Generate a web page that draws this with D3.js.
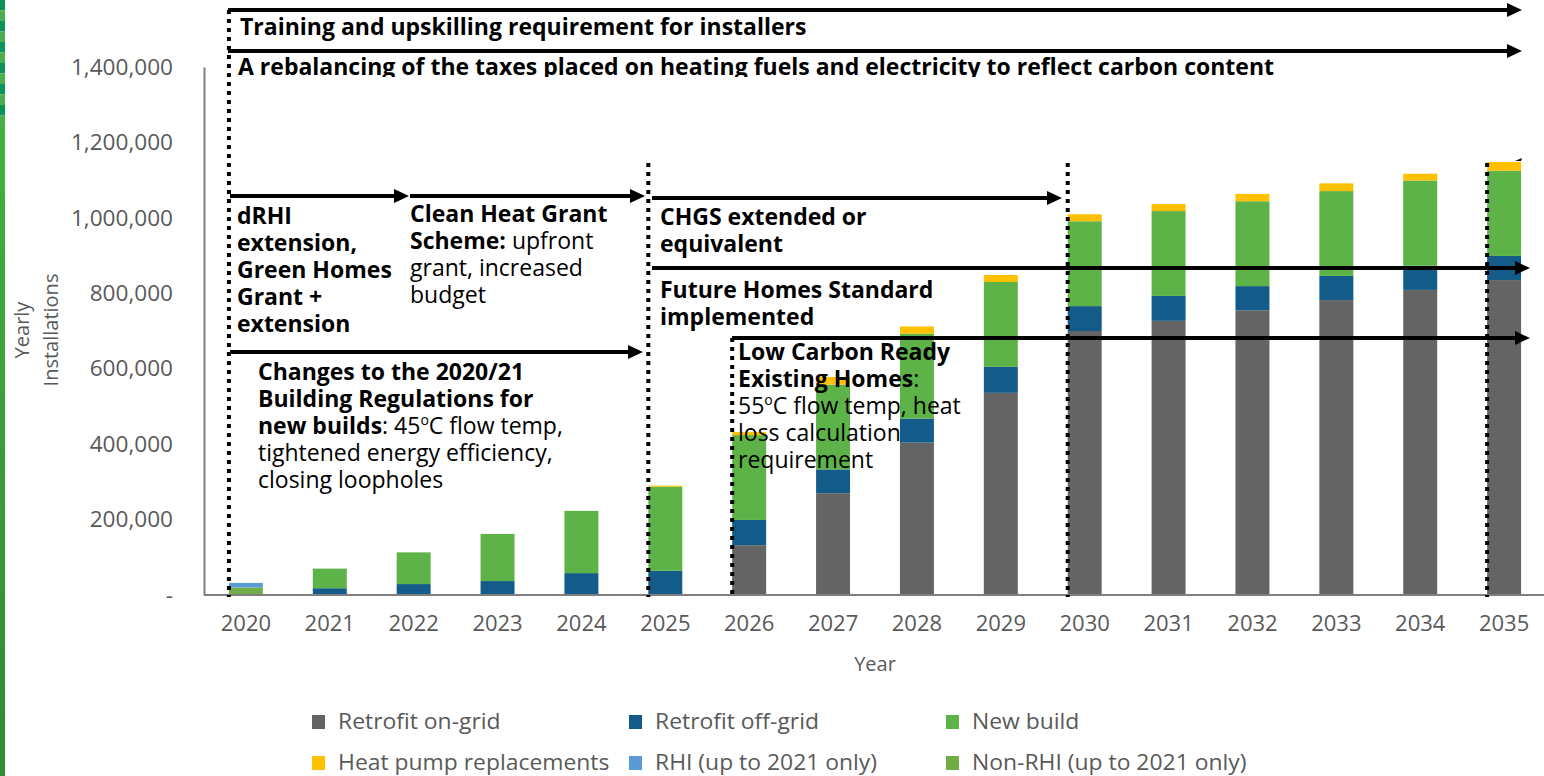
<!DOCTYPE html>
<html><head><meta charset="utf-8">
<script src="https://cdn.jsdelivr.net/npm/d3@7"></script>
<style>
html,body{margin:0;padding:0;background:#fff;}
svg{display:block;font-family:"Open Sans",sans-serif;}
</style></head>
<body><svg id="c" width="1544" height="776"></svg>
<script>
const years = ["2020","2021","2022","2023","2024","2025","2026","2027","2028","2029","2030","2031","2032","2033","2034","2035"];
const retrofitOnGrid = [0,0,0,0,0,0,132000,270000,404000,536000,700000,727000,755000,782000,809000,835000];
const retrofitOffGrid = [0,18000,29000,37000,58000,64000,67000,63000,64000,69000,66000,66000,64000,64000,64000,64000];
const newBuild = [0,52000,84000,125000,165000,223000,225000,225000,225000,225000,225000,225000,225000,225000,226000,226000];
const nonRhi = [20000,0,0,0,0,0,0,0,0,0,0,0,0,0,0,0];
const rhi = [12000,0,0,0,0,0,0,0,0,0,0,0,0,0,0,0];
const replacements = [0,0,0,0,0,3000,8000,20000,19000,18500,18500,18500,19500,20500,18000,23000];
const yTicks = [0,200000,400000,600000,800000,1000000,1200000,1400000];
const seriesNames = ["Retrofit on-grid","Retrofit off-grid","New build","Heat pump replacements","RHI (up to 2021 only)","Non-RHI (up to 2021 only)"];

const colors = {
  onGrid:"#646464", offGrid:"#135B89", newBuild:"#5DB347",
  replacements:"#FFC000", rhi:"#5B9BD5", nonRhi:"#70AD47"
};
const legendKeys = ["onGrid","offGrid","newBuild","replacements","rhi","nonRhi"];

const rows = years.map((y,i)=>({year:y, onGrid:retrofitOnGrid[i], offGrid:retrofitOffGrid[i], newBuild:newBuild[i], nonRhi:nonRhi[i], rhi:rhi[i], replacements:replacements[i]}));
const stackKeys = ["onGrid","offGrid","newBuild","nonRhi","rhi","replacements"];
const stacked = d3.stack().keys(stackKeys)(rows);

const svg = d3.select("#c");

// left decorative stripe
const stripe = svg.append("g");
for(let i=0;i<12;i++){
  stripe.append("rect").attr("x",0).attr("y",i*10.5).attr("width",5).attr("height",10.5)
    .attr("fill", i%2===0 ? "#0A9457" : "#4DAE4F");
}
const defs = svg.append("defs");
const grad = defs.append("linearGradient").attr("id","sg").attr("x1",0).attr("x2",0).attr("y1",0).attr("y2",1);
grad.append("stop").attr("offset","0%").attr("stop-color","#45B03F");
grad.append("stop").attr("offset","100%").attr("stop-color","#2F8C31");
stripe.append("rect").attr("x",0).attr("y",126).attr("width",5).attr("height",650).attr("fill","url(#sg)");

const x = d3.scaleBand().domain(years).range([204,1546]).paddingInner(0.595).paddingOuter(0.297);
const y = d3.scaleLinear().domain([0,1400000]).range([595,67]);

// bars
svg.append("g").selectAll("g").data(stacked).join("g")
  .attr("fill", d=>colors[d.key])
  .selectAll("rect").data(d=>d).join("rect")
  .attr("x", d=>x(d.data.year))
  .attr("width", x.bandwidth())
  .attr("y", d=>y(d[1]))
  .attr("height", d=>Math.max(0, y(d[0])-y(d[1])));

// axes
const yAxis = svg.append("g").attr("transform","translate(204,0)")
  .call(d3.axisLeft(y).tickValues(yTicks).tickSize(0).tickPadding(31)
  .tickFormat(d=> d===0 ? "-" : d3.format(",")(d)));
yAxis.select(".domain").attr("stroke","#7F7F7F").attr("stroke-width",2);
yAxis.selectAll("text").attr("font-size",22.6).attr("fill","#595959").attr("font-family","Open Sans");

const xAxis = svg.append("g").attr("transform","translate(0,595)")
  .call(d3.axisBottom(x).tickSize(0).tickPadding(20));
xAxis.select(".domain").attr("stroke","#7F7F7F").attr("stroke-width",2).attr("d","M204,0H1544");
xAxis.selectAll("text").attr("font-size",22).attr("fill","#595959").attr("font-family","Open Sans");

svg.append("text").attr("x",875).attr("y",671).attr("text-anchor","middle")
  .attr("font-size",20).attr("fill","#595959").text("Year");
const yt = svg.append("text").attr("transform","translate(0,330) rotate(-90)")
  .attr("text-anchor","middle").attr("font-size",20).attr("fill","#595959");
yt.append("tspan").attr("x",0).attr("y",29).text("Yearly");
yt.append("tspan").attr("x",0).attr("y",58).text("Installations");

// dotted verticals
const dots = [[x("2020"),10],[x("2025"),163],[x("2026"),338],[x("2030"),163],[x("2035"),163]];
svg.append("g").selectAll("line").data(dots).join("line")
  .attr("x1",d=>d[0]).attr("x2",d=>d[0]).attr("y1",d=>d[1]).attr("y2",597)
  .attr("stroke","#000").attr("stroke-width",4).attr("stroke-dasharray","4,5");

// arrows
const arrows = [[228,1522,10],[228,1522,51],[230,409,196],[410,645,196],[652,1062,198],[652,1530,268],[732,1530,338],[230,643,352]];
const ag = svg.append("g");
arrows.forEach(([x1,x2,yy])=>{
  ag.append("line").attr("x1",x1).attr("x2",x2-10).attr("y1",yy).attr("y2",yy)
    .attr("stroke","#000").attr("stroke-width",4);
  ag.append("path").attr("d",`M${x2},${yy} L${x2-15},${yy-7} L${x2-15},${yy+7} Z`).attr("fill","#000");
});
// small stray mark near top right
ag.append("path").attr("d","M1515,161 L1522,158 L1521,161 Z").attr("fill","#000");

// annotation text
const ann = svg.append("g").attr("font-size",23).attr("fill","#000");
function block(x0, y0, lines, lh=27){
  lines.forEach((segs,i)=>{
    const t = ann.append("text").attr("x",x0).attr("y",y0+i*lh);
    segs.forEach(s=>{
      const ts = t.append("tspan").text(s.t).attr("font-weight", s.b ? 700 : 400);
      if(s.sup){ ts.attr("font-size",14).attr("dy",-9); }
      if(s.after){ ts.attr("dy",9); }
    });
  });
}
const B = t=>({t,b:true}), R = t=>({t,b:false});
block(240,35,[[B("Training and upskilling requirement for installers")]]);
defs.append("clipPath").attr("id","clipA").append("rect").attr("x",220).attr("y",55).attr("width",1300).attr("height",22);
ann.append("text").attr("x",238).attr("y",75).attr("font-weight",700).attr("clip-path","url(#clipA)")
  .text("A rebalancing of the taxes placed on heating fuels and electricity to reflect carbon content");
block(237,224,[[B("dRHI")],[B("extension,")],[B("Green Homes")],[B("Grant +")],[B("extension")]]);
block(410,222,[[B("Clean Heat Grant")],[B("Scheme:"),R(" upfront")],[R("grant, increased")],[R("budget")]]);
block(660,225,[[B("CHGS extended or")],[B("equivalent")]]);
block(660,298,[[B("Future Homes Standard")],[B("implemented")]]);
block(258,380,[[B("Changes to the 2020/21")],[B("Building Regulations for")],[B("new builds"),R(": 45"),{t:"o",sup:true},{t:"C flow temp,",after:true}],[R("tightened energy efficiency,")],[R("closing loopholes")]]);
block(738,360,[[B("Low Carbon Ready")],[B("Existing Homes"),R(":")],[R("55"),{t:"o",sup:true},{t:"C flow temp, heat",after:true}],[R("loss calculation")],[R("requirement")]]);

// legend
const legPos = [[312,722],[629,722],[946,722],[312,763],[629,763],[946,763]];
const lg = svg.append("g");
legendKeys.forEach((k,i)=>{
  const [lx,ly] = legPos[i];
  lg.append("rect").attr("x",lx).attr("y",ly-7).attr("width",13).attr("height",14).attr("fill",colors[k]);
  const t = lg.append("text").attr("x",lx+26).attr("y",ly+7).attr("font-size",21).attr("fill","#595959").text(seriesNames[i]);
  const w = t.node().getComputedTextLength();
  t.attr("textLength", w*1.09).attr("lengthAdjust","spacingAndGlyphs");
});
</script></body></html>
